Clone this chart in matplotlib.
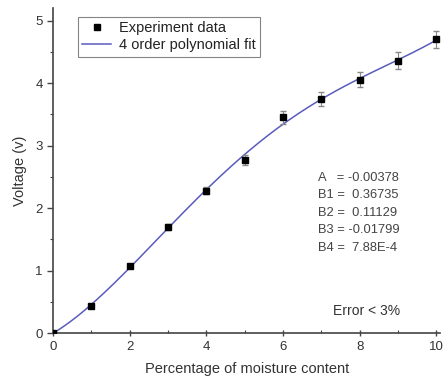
import numpy as np
import matplotlib.pyplot as plt
from matplotlib.lines import Line2D
from matplotlib.ticker import MultipleLocator

# measured points
moisture = [0, 1, 2, 3, 4, 5, 6, 7, 8, 9, 10]
voltage = [0.0, 0.43, 1.07, 1.70, 2.28, 2.77, 3.45, 3.74, 4.05, 4.36, 4.70]
voltage_err = [0.0, 0.02, 0.03, 0.05, 0.06, 0.08, 0.10, 0.11, 0.12, 0.13, 0.14]

# fit coefficients as printed on the chart (A, B1..B4)
coef_names = ["A  ", "B1", "B2", "B3", "B4"]
coef_labels = ["-0.00378", " 0.36735", " 0.11129", "-0.01799", " 7.88E-4"]
coefs = [-0.00378, 0.36735, 0.11129, -0.01799, 7.88e-4]

plt.rcParams["font.family"] = ["Liberation Sans", "DejaVu Sans"]

fig = plt.figure(figsize=(4.46, 3.85), dpi=100)
ax = fig.add_axes([0.119, 0.135, 0.868, 0.844])

xfit = np.linspace(0, 10, 200)
yfit = np.polyval(coefs[::-1], xfit)
ax.plot(xfit, yfit, color="#5b5bbf", lw=1.1, zorder=2)
ax.errorbar(moisture, voltage, yerr=voltage_err, fmt="s", color="black", ms=4.5,
            ecolor="#888888", elinewidth=0.8, capsize=2, zorder=3)

ax.set_xlim(0, 10.1)
ax.set_ylim(0, 5.2)
ax.xaxis.set_major_locator(MultipleLocator(2))
ax.xaxis.set_minor_locator(MultipleLocator(1))
ax.yaxis.set_major_locator(MultipleLocator(1))
ax.yaxis.set_minor_locator(MultipleLocator(0.5))
for s in ["top", "right"]:
    ax.spines[s].set_visible(False)
for s in ["left", "bottom"]:
    ax.spines[s].set_color("#444444")
    ax.spines[s].set_linewidth(1.2)
ax.tick_params(which="major", length=4, width=1, colors="#444444", labelsize=9.5,
               labelcolor="#333333")
ax.tick_params(which="minor", length=2.5, width=0.8, colors="#444444")
ax.tick_params(axis="x", which="major", direction="inout", length=5)
ax.tick_params(axis="x", which="minor", direction="in", length=2.5)

ax.set_xlabel("Percentage of moisture content", fontsize=10.5, color="#333333", labelpad=6)
ax.set_ylabel("Voltage (v)", fontsize=10.5, color="#333333", labelpad=6)

handles = [
    Line2D([], [], ls="none", marker="s", color="black", ms=4.5),
    Line2D([], [], color="#5b5bbf", lw=1.1),
]
labels = ["Experiment data", "4 order polynomial fit"]
leg = ax.legend(handles, labels, loc="upper left", bbox_to_anchor=(0.045, 0.995),
                fontsize=10.5, frameon=True, fancybox=False, edgecolor="#666666",
                handlelength=2.0, borderpad=0.3, labelspacing=0.2, handletextpad=0.5)
leg.get_frame().set_linewidth(0.8)
for t in leg.get_texts():
    t.set_color("#222222")

lines = [f"{n} = {v}" for n, v in zip(coef_names, coef_labels)]
ax.text(0.685, 0.497, "\n".join(lines), transform=ax.transAxes, fontsize=9.3,
        color="#444444", va="top", ha="left", linespacing=1.62)
ax.text(0.897, 0.045, "Error < 3%", transform=ax.transAxes, fontsize=10,
        color="#333333", ha="right", va="bottom")

fig.savefig("out.png", dpi=100)
